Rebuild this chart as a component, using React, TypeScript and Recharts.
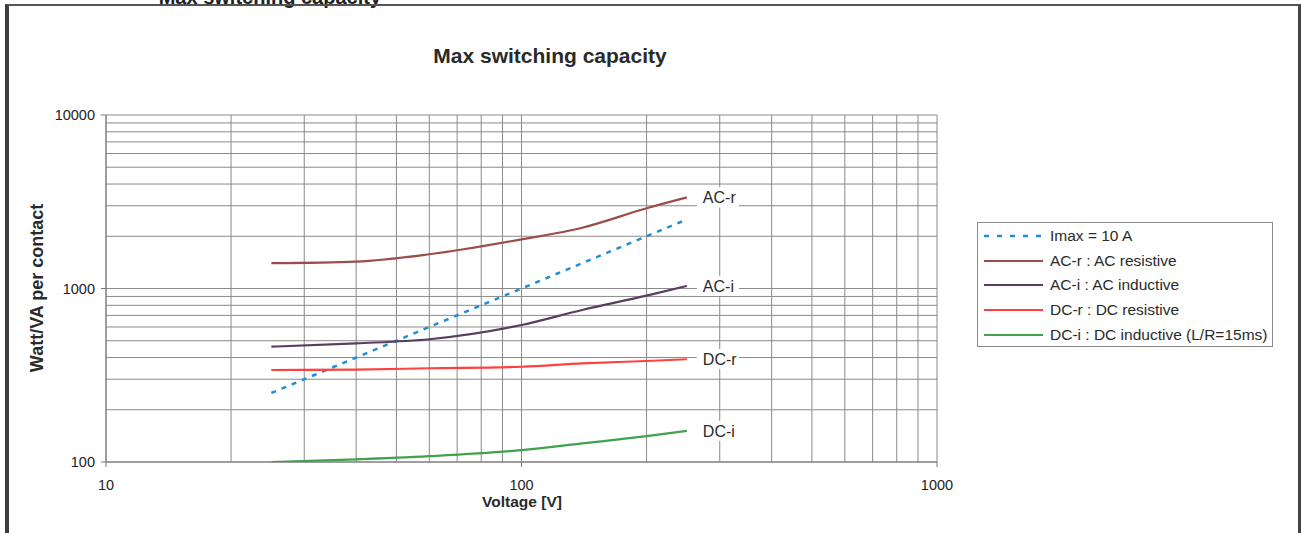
import React from "react"
import { LineChart, Line, XAxis, YAxis, CartesianGrid, LabelList } from "recharts"

// voltage points the curves were read at
const volts = [25, 40, 60, 100, 140, 200, 250]

const imax10A = [250, 400, 600, 1000, 1400, 2000, 2500]
const acResistive = [1400, 1430, 1575, 1920, 2240, 2900, 3350]
const acInductive = [462, 483, 510, 616, 752, 909, 1034]
const dcResistive = [339, 341, 347, 354, 370, 382, 391]
const dcInductive = [100, 103.5, 108, 117, 128, 141, 151]

const xTicks = [10, 100, 1000]
const yTicks = [100, 1000, 10000]
const xGrid = [10, 20, 30, 40, 50, 60, 70, 80, 90, 100, 200, 300, 400, 500, 600, 700, 800, 900, 1000]
const yGrid = [100, 200, 300, 400, 500, 600, 700, 800, 900, 1000, 2000, 3000, 4000, 5000, 6000, 7000, 8000, 9000, 10000]

const series = [
  { key: "imax", name: "Imax = 10 A", tag: "", color: "#1f8fd4", dash: "5 6" },
  { key: "acr", name: "AC-r : AC resistive", tag: "AC-r", color: "#9a4d4a", dash: "" },
  { key: "aci", name: "AC-i : AC inductive", tag: "AC-i", color: "#5a3d5e", dash: "" },
  { key: "dcr", name: "DC-r : DC resistive", tag: "DC-r", color: "#ff4040", dash: "" },
  { key: "dci", name: "DC-i : DC inductive (L/R=15ms)", tag: "DC-i", color: "#3fa34d", dash: "" },
]

const rows = volts.map((v, i) => ({
  v,
  imax: imax10A[i],
  acr: acResistive[i],
  aci: acInductive[i],
  dcr: dcResistive[i],
  dci: dcInductive[i],
}))

const FONT = "'Liberation Sans', Arial, sans-serif"
const last = volts.length - 1

function endTag(tag: string) {
  return (p: any) => {
    if (p.index !== last || !tag) return null
    const x = Number(p.x)
    const y = Number(p.y)
    return (
      <g>
        <rect x={x + 10} y={y - 10} width={42} height={20} fill="#fff" />
        <text x={x + 16} y={y} dy="0.36em" fontSize={16} fill="#2a2a2a" fontFamily={FONT}>
          {tag}
        </text>
      </g>
    )
  }
}

export default function App() {
  return (
    <div style={{ position: "absolute", left: 0, top: 0, width: 1301, height: 533, background: "#fff", overflow: "hidden", fontFamily: FONT }}>
      <LineChart
        width={1301}
        height={533}
        data={rows}
        margin={{ top: 115, right: 364, bottom: 31, left: 46 }}
      >
        <CartesianGrid
          stroke="#8a8a8a"
          horizontalValues={yGrid}
          verticalValues={xGrid}
        />
        <XAxis
          dataKey="v"
          type="number"
          scale="log"
          domain={[10, 1000]}
          ticks={xTicks}
          interval={0}
          height={40}
          tickSize={5}
          tickMargin={13}
          axisLine={{ stroke: "#777" }}
          tickLine={{ stroke: "#777" }}
          tick={{ fontSize: 14.5, fill: "#222", fontFamily: FONT }}
          allowDataOverflow
        />
        <YAxis
          type="number"
          scale="log"
          domain={[100, 10000]}
          ticks={yTicks}
          interval={0}
          width={60}
          tickSize={5}
          tickMargin={6}
          axisLine={{ stroke: "#777" }}
          tickLine={{ stroke: "#777" }}
          tick={{ fontSize: 14.5, fill: "#222", fontFamily: FONT }}
          allowDataOverflow
        />
        {series.map((s) => (
          <Line
            key={s.key}
            dataKey={s.key}
            name={s.name}
            type="monotone"
            stroke={s.color}
            strokeWidth={s.dash ? 2.5 : 2.2}
            strokeDasharray={s.dash || undefined}
            dot={false}
            activeDot={false}
            isAnimationActive={false}
          >
            {s.tag ? <LabelList dataKey={s.key} content={endTag(s.tag)} /> : null}
          </Line>
        ))}
      </LineChart>

      {/* titles and axis captions */}
      <svg width={1301} height={533} style={{ position: "absolute", left: 0, top: 0, pointerEvents: "none" }}>
        <text x={381} y={4} textAnchor="end" fontSize={20} fontWeight="bold" fill="#222" fontFamily={FONT}>
          Max switching capacity
        </text>
        <text x={550} y={63} textAnchor="middle" fontSize={21} fontWeight="bold" fill="#2a2a2a" fontFamily={FONT}>
          Max switching capacity
        </text>
        <text
          x={37}
          y={288}
          textAnchor="middle"
          dy="0.36em"
          transform="rotate(-90 37 288)"
          fontSize={18}
          fontWeight="bold"
          fill="#2a2a2a"
          fontFamily={FONT}
        >
          Watt/VA per contact
        </text>
        <text x={522} y={507} textAnchor="middle" fontSize={15.5} fontWeight="bold" fill="#2a2a2a" fontFamily={FONT}>
          Voltage [V]
        </text>
      </svg>

      {/* legend */}
      <div
        style={{
          position: "absolute",
          left: 977,
          top: 222,
          width: 296,
          height: 125,
          border: "1px solid #8a8a8a",
          boxSizing: "border-box",
        }}
      >
        {series.map((s, i) => (
          <div
            key={s.key}
            style={{ position: "absolute", left: 0, top: 1 + i * 24.7, height: 24, display: "flex", alignItems: "center" }}
          >
            <svg width={70} height={24}>
              <line
                x1={6}
                x2={65}
                y1={12}
                y2={12}
                stroke={s.color}
                strokeWidth={s.dash ? 2.5 : 2.2}
                strokeDasharray={s.dash ? "5 8" : undefined}
              />
            </svg>
            <span style={{ fontSize: 15.5, color: "#2a2a2a", marginLeft: 2, whiteSpace: "nowrap" }}>{s.name}</span>
          </div>
        ))}
      </div>

      {/* outer frame of the scanned page */}
      <div
        style={{
          position: "absolute",
          left: 5,
          top: 4,
          width: 1296,
          height: 560,
          borderLeft: "4px solid #3e3e3e",
          borderTop: "2px solid #555",
          borderRight: "3px solid #444",
          boxSizing: "border-box",
          pointerEvents: "none",
        }}
      />
    </div>
  )
}
